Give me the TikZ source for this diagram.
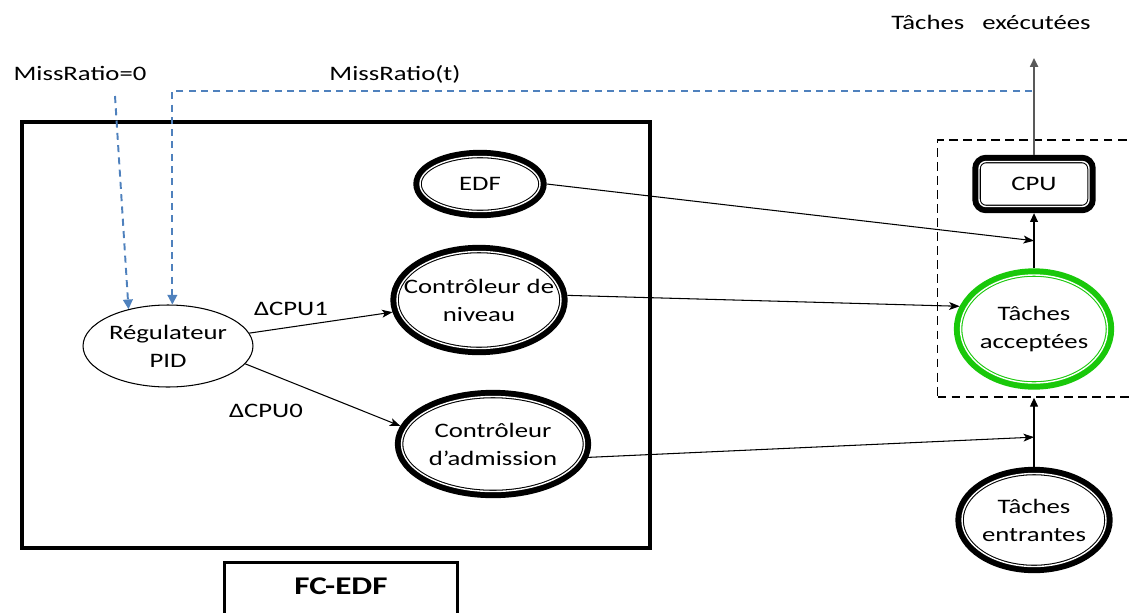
\documentclass[tikz,border=0pt]{standalone}
\usepackage{fontspec}
\setmainfont{Carlito}[FakeStretch=1.3]
\usetikzlibrary{shapes.geometric,calc,arrows.meta}

\definecolor{fbblue}{RGB}{79,129,189}
\definecolor{accgreen}{RGB}{25,200,10}

\tikzset{
  ring/.style={preaction={draw=#1, line width=7.6pt}, fill=white, draw=#1,
    double=white, double distance=0.8pt, line width=0.6pt, outer sep=3.8pt, align=center},
  ring/.default=black,
  oval/.style={ellipse, inner xsep=-20pt, inner ysep=0pt},
  feedback/.style={fbblue, line width=1.1pt, dash pattern=on 4pt off 3pt, -{Triangle[length=5.5pt, width=5.5pt]}},
  link/.style={-{Stealth[length=6pt, width=4.5pt, inset=1.5pt]}, line width=0.6pt},
  feed/.style={-{Triangle[length=5pt, width=4.5pt]}, line width=0.6pt},
}

\begin{document}
\begin{tikzpicture}[x=0.02cm, y=-0.02cm, font=\fontsize{11.7}{15.9}\selectfont]
      \useasboundingbox (0,0) rectangle (1131,612);
      \clip (0,0) rectangle (1131,612);
      \draw[line width=2.8pt] (22,122) rectangle (650,548);
      \node (fcedf) [draw, line width=1.7pt, anchor=north, minimum width=4.66cm, inner ysep=0.3cm,
        text depth=1.2cm, font=\bfseries\fontsize{14.5}{17}\selectfont] at (341,561) {FC-EDF};
      \node (sys) [draw, line width=0.9pt, dash pattern=on 5pt off 3pt, minimum width=4.1cm,
        minimum height=5.14cm] at (1040,268.5) {};

      \node (edf) [ring, oval, minimum width=2.4cm, minimum height=1.1cm] at (480,184) {EDF};
      \node (niv) [ring, oval, minimum width=3.28cm, minimum height=1.94cm] at (479,300) {Contrôleur de\\niveau};
      \node (adm) [ring, oval, minimum width=3.66cm, minimum height=1.9cm] at (493,444) {Contrôleur\\d’admission};
      \node (pid) [draw, oval, line width=0.6pt, minimum width=3.4cm, minimum height=1.64cm, align=center] at (168,346) {Régulateur\\PID};
      \node (cpu) [ring, rounded corners=4pt, minimum width=2.2cm, minimum height=0.9cm] at (1034,184) {CPU};
      \node (acc) [ring=accgreen, oval, minimum width=2.94cm, minimum height=2.16cm] at (1034,329) {Tâches\\acceptées};
      \node (ent) [ring, oval, minimum width=2.88cm, minimum height=1.86cm] at (1034,520) {Tâches\\entrantes};

      \node (done) [anchor=base] at (991,30) {Tâches~~~exécutées};
      \node (mr0) [anchor=base] at (80,80) {MissRatio=0};
      \node (mrt) [anchor=base] at (395,80) {MissRatio(t)};
      \node (d1) [anchor=base] at (291,315) {ΔCPU1};
      \node (d0) [anchor=base] at (266,417) {ΔCPU0};

      \coordinate (out) at (1034,58);
      \coordinate (fb) at (1032,91);
      \coordinate (s0) at (115,96);
      \coordinate (j1) at ($(acc.north)!0.5!(cpu.south)$);
      \coordinate (j2) at ($(ent.north)!0.43!(ent.north |- sys.south)$);

      \draw[link] (pid.9) -- (niv.188);
      \draw[link] (pid.-13) -- (adm.169);
      \draw[link] (edf.east) -- (j1);
      \draw[link] (niv.3) -- (acc.163);
      \draw[link] (adm.-8) -- (j2);
      \draw[feed] (ent.north) -- (ent.north |- sys.south);
      \draw[feed] (acc.north) -- (cpu.south);
      \draw[feed, black!65, line width=1.1pt] (cpu.north) -- (out);
      \draw[feedback] (s0) -- (pid.137);
      \draw[feedback] (fb) -| (pid.84);
\end{tikzpicture}
\end{document}
